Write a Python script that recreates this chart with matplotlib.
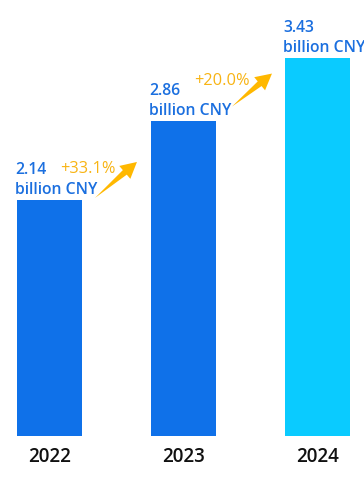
import numpy as np
import matplotlib
matplotlib.use('Agg')
import matplotlib.pyplot as plt
from matplotlib.patches import Polygon
from matplotlib.transforms import IdentityTransform

years = ['2022', '2023', '2024']
values = [2.14, 2.86, 3.43]
value_labels = ['2.14', '2.86', '3.43']
unit = 'billion CNY'
growth_labels = ['+33.1%', '+20.0%']

bar_colors = ['#0F71E9', '#0F71E9', '#0ACBFF']
text_blue = '#1B6FDF'
orange = '#FFB800'
font = ['Open Sans', 'DejaVu Sans']

W, H = 364, 495
fig = plt.figure(figsize=(W/100, H/100), dpi=100)
ax = fig.add_axes([0, 59/H, 1, 436/H])
bw = 0.485
x = np.arange(len(years))
ax.bar(x, values, width=bw, color=bar_colors)
ax.set_xlim(-0.369, 2.347)
ax.set_ylim(0, 3.953)
ax.axis('off')

for i in range(len(years)):
    ax.annotate(unit, xy=(x[i]-bw/2, values[i]), xytext=(-2, 6), textcoords='offset pixels',
                ha='left', va='baseline', color=text_blue, fontsize=11.3, family=font,
                fontweight='semibold')
    ax.annotate(value_labels[i], xy=(x[i]-bw/2, values[i]), xytext=(-2, 26), textcoords='offset pixels',
                ha='left', va='baseline', color=text_blue, fontsize=11.3, family=font,
                fontweight='semibold')
    ax.annotate(years[i], xy=(x[i], 0), xytext=(0, -21), textcoords='offset pixels',
                ha='center', va='center', color='#111111', fontsize=13.5, family=font,
                fontweight='semibold')

# arrows between bars, offsets (pixels) from top-right corner of the left bar
arrow_offsets = [((13, 2), (55, 38), (-22, 31)), ((16, 14), (56, 47), (-22, 40))]
for i, (tail, head, txt) in enumerate(arrow_offsets):
    cx, cy = ax.transData.transform((x[i]+bw/2, values[i]))
    T = np.array([cx+tail[0], cy+tail[1]])
    Hd = np.array([cx+head[0], cy+head[1]])
    d = (Hd-T)/np.linalg.norm(Hd-T)
    n = np.array([-d[1], d[0]])
    B = Hd - d*16
    pts = [T, B+n*3, B+n*8.5, Hd, B-n*8.5, B-n*3]
    fig.add_artist(Polygon(pts, closed=True, facecolor=orange, edgecolor='none',
                           transform=IdentityTransform()))
    fig.text(cx+txt[0], cy+txt[1], growth_labels[i], transform=IdentityTransform(),
             ha='left', va='center', color='#F8B414', fontsize=11.8, family=font)

fig.savefig('out.png', dpi=100)
